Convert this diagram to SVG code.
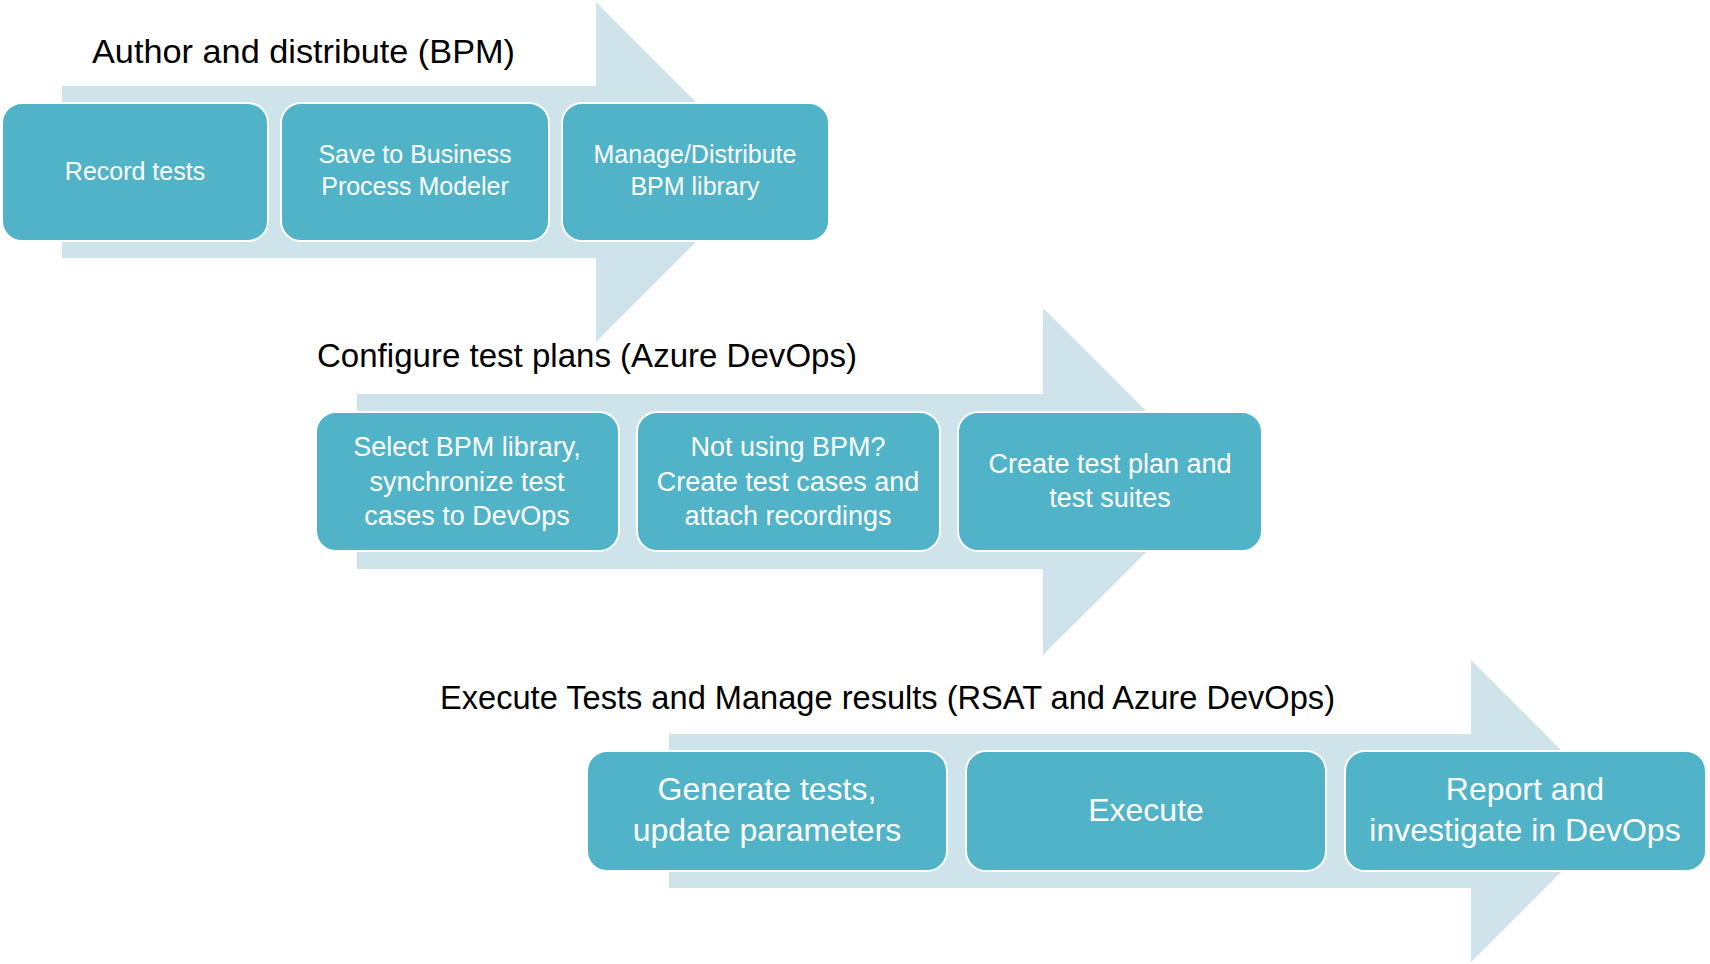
<svg xmlns="http://www.w3.org/2000/svg" width="1710" height="964" viewBox="0 0 1710 964">
<style>
.arrow{fill:#cfe4ea;}
.box{fill:#51b3c8;stroke:#ffffff;stroke-width:2;}
.title{font-family:"Liberation Sans",Arial,sans-serif;font-size:34px;fill:#000000;}
.t1{font-family:"Liberation Sans",Arial,sans-serif;font-size:25px;fill:#ffffff;text-anchor:middle;}
.t2{font-family:"Liberation Sans",Arial,sans-serif;font-size:27px;fill:#ffffff;text-anchor:middle;}
.t3{font-family:"Liberation Sans",Arial,sans-serif;font-size:32px;fill:#ffffff;text-anchor:middle;}
</style>
<rect width="1710" height="964" fill="#ffffff"/>
<g id="arrows">
<polygon class="arrow" points="62,86 596,86 596,2 766,172 596,342 596,258 62,258"/>
<polygon class="arrow" points="357,394 1043,394 1043,308 1217,481.5 1043,655 1043,569 357,569"/>
<polygon class="arrow" points="669,734 1471,734 1471,660 1622,811 1471,962 1471,888 669,888"/>
</g>
<g id="titles">
<text class="title" x="92" y="63" textLength="423" lengthAdjust="spacingAndGlyphs">Author and distribute (BPM)</text>
<text class="title" x="317" y="367" textLength="540" lengthAdjust="spacingAndGlyphs">Configure test plans (Azure DevOps)</text>
<text class="title" x="440" y="709" textLength="895" lengthAdjust="spacingAndGlyphs">Execute Tests and Manage results (RSAT and Azure DevOps)</text>
</g>
<g id="record-tests">
<rect class="box" x="2" y="103" width="266" height="138" rx="20"/>
<text class="t1" x="135" y="180">Record tests</text>
</g>
<g id="save-bpm">
<rect class="box" x="281" y="103" width="268" height="138" rx="20"/>
<text class="t1" x="415" y="163">Save to Business</text>
<text class="t1" x="415" y="195">Process Modeler</text>
</g>
<g id="manage-distribute">
<rect class="box" x="562" y="103" width="267" height="138" rx="20"/>
<text class="t1" x="695" y="163">Manage/Distribute</text>
<text class="t1" x="695" y="195">BPM library</text>
</g>
<g id="select-bpm">
<rect class="box" x="316" y="412" width="303" height="139" rx="20"/>
<text class="t2" x="467" y="456">Select BPM library,</text>
<text class="t2" x="467" y="491">synchronize test</text>
<text class="t2" x="467" y="525">cases to DevOps</text>
</g>
<g id="not-using-bpm">
<rect class="box" x="637" y="412" width="303" height="139" rx="20"/>
<text class="t2" x="788" y="456">Not using BPM?</text>
<text class="t2" x="788" y="491">Create test cases and</text>
<text class="t2" x="788" y="525">attach recordings</text>
</g>
<g id="create-test-plan">
<rect class="box" x="958" y="412" width="304" height="139" rx="20"/>
<text class="t2" x="1110" y="473">Create test plan and</text>
<text class="t2" x="1110" y="507">test suites</text>
</g>
<g id="generate-tests">
<rect class="box" x="587" y="751" width="360" height="120" rx="20"/>
<text class="t3" x="767" y="800">Generate tests,</text>
<text class="t3" x="767" y="841">update parameters</text>
</g>
<g id="execute">
<rect class="box" x="966" y="751" width="360" height="120" rx="20"/>
<text class="t3" x="1146" y="821">Execute</text>
</g>
<g id="report">
<rect class="box" x="1345" y="751" width="361" height="120" rx="20"/>
<text class="t3" x="1525" y="800">Report and</text>
<text class="t3" x="1525" y="841">investigate in DevOps</text>
</g>
</svg>
